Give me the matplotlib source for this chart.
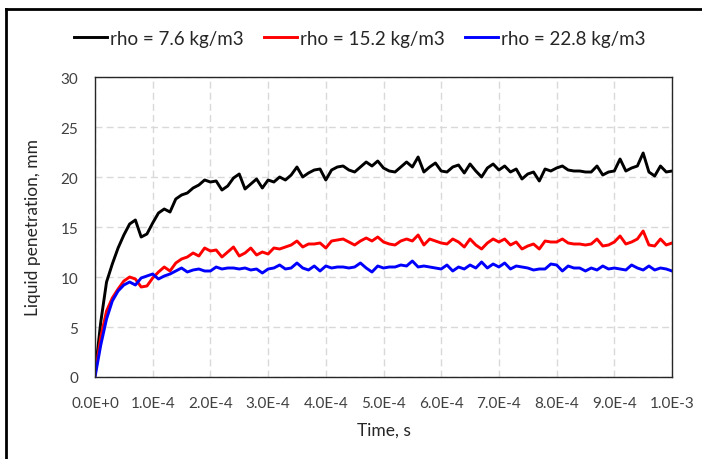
import matplotlib.pyplot as plt
from matplotlib.lines import Line2D
from matplotlib.ticker import FixedLocator

plt.rcParams['font.family'] = ['Lato', 'DejaVu Sans']

# time in units of 1e-5 s
time_steps = [0, 1, 2, 3, 4, 5, 6, 7, 8, 9, 10, 11, 12, 13, 14, 15, 16, 17, 18, 19,
              20, 21, 22, 23, 24, 25, 26, 27, 28, 29, 30, 31, 32, 33, 34, 35, 36, 37, 38, 39,
              40, 41, 42, 43, 44, 45, 46, 47, 48, 49, 50, 51, 52, 53, 54, 55, 56, 57, 58, 59,
              60, 61, 62, 63, 64, 65, 66, 67, 68, 69, 70, 71, 72, 73, 74, 75, 76, 77, 78, 79,
              80, 81, 82, 83, 84, 85, 86, 87, 88, 89, 90, 91, 92, 93, 94, 95, 96, 97, 98, 99, 100]

rho_76 = [0.3, 5.5, 9.5, 11.3, 12.9, 14.2, 15.3, 15.7, 14.0, 14.3,
          15.4, 16.4, 16.8, 16.5, 17.8, 18.2, 18.4, 18.9, 19.2, 19.7,
          19.5, 19.6, 18.7, 19.1, 19.9, 20.3, 18.8, 19.3, 19.8, 18.9,
          19.7, 19.5, 20.0, 19.7, 20.2, 21.0, 20.0, 20.4, 20.7, 20.8,
          19.7, 20.7, 21.0, 21.1, 20.7, 20.5, 21.0, 21.5, 21.1, 21.6,
          20.9, 20.6, 20.5, 21.0, 21.5, 21.0, 22.0, 20.5, 21.0, 21.4,
          20.6, 20.5, 21.0, 21.2, 20.4, 21.3, 20.6, 20.0, 20.9, 21.3,
          20.7, 21.1, 20.5, 20.8, 19.8, 20.3, 20.5, 19.6, 20.8, 20.6,
          20.9, 21.1, 20.7, 20.6, 20.6, 20.5, 20.5, 21.1, 20.2, 20.5,
          20.6, 21.8, 20.6, 20.9, 21.1, 22.4, 20.5, 20.1, 21.1, 20.5, 20.6]

rho_152 = [0.2, 4.0, 6.6, 7.9, 8.8, 9.6, 10.0, 9.8, 9.0, 9.1,
           9.9, 10.5, 11.0, 10.6, 11.4, 11.8, 12.0, 12.4, 12.1, 12.9,
           12.6, 12.7, 12.0, 12.5, 13.0, 12.1, 12.4, 12.9, 12.2, 12.5,
           12.3, 12.9, 12.8, 13.0, 13.2, 13.6, 13.0, 13.3, 13.3, 13.4,
           12.9, 13.6, 13.7, 13.8, 13.5, 13.2, 13.6, 13.9, 13.6, 14.0,
           13.5, 13.3, 13.2, 13.6, 13.8, 13.6, 14.2, 13.2, 13.8, 13.6,
           13.4, 13.3, 13.8, 13.5, 13.0, 13.8, 13.2, 12.8, 13.4, 13.8,
           13.5, 13.8, 13.2, 13.5, 12.8, 13.1, 13.3, 12.8, 13.6, 13.5,
           13.5, 13.8, 13.4, 13.3, 13.3, 13.2, 13.3, 13.8, 13.1, 13.2,
           13.5, 14.1, 13.3, 13.5, 13.8, 14.6, 13.2, 13.1, 13.8, 13.2, 13.4]

rho_228 = [0.0, 3.2, 5.8, 7.6, 8.6, 9.2, 9.5, 9.2, 9.9, 10.1,
           10.3, 9.8, 10.1, 10.3, 10.6, 10.9, 10.5, 10.7, 10.8, 10.6,
           10.6, 11.0, 10.8, 10.9, 10.9, 10.8, 10.9, 10.7, 10.8, 10.4,
           10.8, 10.9, 11.2, 10.8, 10.9, 11.4, 10.9, 10.7, 11.1, 10.6,
           11.1, 10.9, 11.0, 11.0, 10.9, 11.0, 11.4, 10.9, 10.5, 11.1,
           10.9, 11.0, 11.0, 11.2, 11.1, 11.6, 11.0, 11.1, 11.0, 10.9,
           10.8, 11.2, 10.6, 11.0, 10.8, 11.2, 10.9, 11.5, 10.9, 11.3,
           11.0, 11.4, 10.8, 11.1, 11.0, 10.9, 10.7, 10.8, 10.8, 11.3,
           11.2, 10.6, 11.1, 10.9, 10.9, 10.6, 10.9, 10.7, 11.1, 10.8,
           10.9, 10.8, 10.7, 11.2, 10.9, 10.7, 11.1, 10.7, 10.9, 10.8, 10.6]

series_labels = ['rho = 7.6 kg/m3', 'rho = 15.2 kg/m3', 'rho = 22.8 kg/m3']
series_colors = ['black', '#ff0000', '#0000ff']

x_ticks = [0, 1e-4, 2e-4, 3e-4, 4e-4, 5e-4, 6e-4, 7e-4, 8e-4, 9e-4, 1e-3]
x_ticklabels = ['0.0E+0', '1.0E-4', '2.0E-4', '3.0E-4', '4.0E-4', '5.0E-4',
                '6.0E-4', '7.0E-4', '8.0E-4', '9.0E-4', '1.0E-3']
y_ticks = [0, 5, 10, 15, 20, 25, 30]

time_s = [t * 1e-5 for t in time_steps]

fig = plt.figure(figsize=(7.02, 4.60), dpi=100)
ax = fig.add_axes([95 / 702, 82 / 460, 577 / 702, 300 / 460])

for vals, lab, col in zip([rho_76, rho_152, rho_228], series_labels, series_colors):
    ax.plot(time_s, vals, color=col, lw=2.1, label=lab, solid_joinstyle='round')

ax.set_xlim(0, 1e-3)
ax.set_ylim(0, 30)
ax.xaxis.set_major_locator(FixedLocator(x_ticks))
ax.set_xticklabels(x_ticklabels)
ax.set_yticks(y_ticks)
ax.tick_params(length=0, labelsize=11, colors='#404040')
ax.tick_params(axis='x', pad=14)
ax.tick_params(axis='y', pad=12)
ax.grid(True, color='#d9d9d9', ls=(0, (5, 3)), lw=1)
ax.set_axisbelow(True)
for s in ax.spines.values():
    s.set_color('#262626')
    s.set_linewidth(1.0)

ax.set_xlabel('Time, s', fontsize=12.5, color='#262626', labelpad=8)
ax.set_ylabel('Liquid penetration, mm', fontsize=12.5, color='#262626', labelpad=14)

fig.legend(loc='center', bbox_to_anchor=(360 / 702, 1 - 39 / 460), ncol=3,
           frameon=False, fontsize=13.5, handlelength=1.75, handletextpad=0.15,
           columnspacing=1.1, labelcolor='#262626')

# outer chart border (only top and left edges visible)
fig.add_artist(Line2D([6 / 702, 6 / 702], [-0.1, 1 - 10 / 460],
                      transform=fig.transFigure, color='black', lw=2))
fig.add_artist(Line2D([6 / 702, 1.1], [1 - 10 / 460, 1 - 10 / 460],
                      transform=fig.transFigure, color='black', lw=2))

fig.savefig('out.png', dpi=100)
